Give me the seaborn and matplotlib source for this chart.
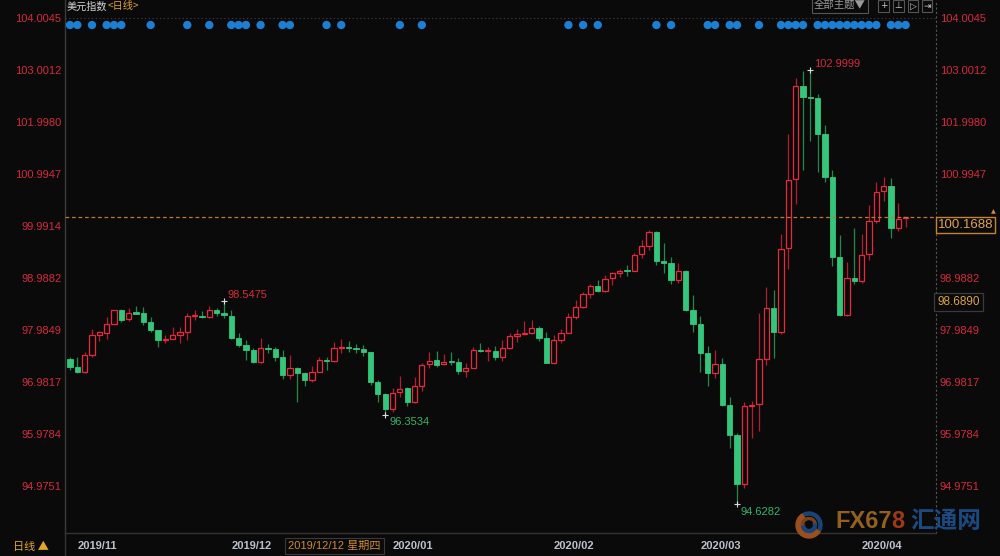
import numpy as np
import pandas as pd
import matplotlib
matplotlib.use("Agg")
import matplotlib.pyplot as plt
import seaborn as sns
from matplotlib.patches import Wedge
from matplotlib.lines import Line2D

# ---------------- data ----------------
open_ = [97.43, 97.28, 97.17, 97.50, 97.88, 97.93, 98.11, 98.37, 98.19, 98.33,
         98.31, 98.13, 97.99, 97.79, 97.82, 97.88, 97.95, 98.26, 98.26, 98.23,
         98.37, 98.31, 98.26, 97.84, 97.70, 97.60, 97.37, 97.64, 97.62, 97.46,
         97.12, 97.26, 97.16, 97.02, 97.18, 97.41, 97.39, 97.64, 97.66, 97.64,
         97.62, 97.57, 96.98, 96.75, 96.46, 96.78, 96.86, 96.59, 96.91, 97.32,
         97.41, 97.32, 97.39, 97.37, 97.19, 97.26, 97.60, 97.58, 97.58, 97.47,
         97.64, 97.87, 97.91, 97.93, 98.02, 97.84, 97.35, 97.79, 97.93, 98.24,
         98.42, 98.68, 98.83, 98.74, 98.98, 99.08, 99.14, 99.13, 99.45, 99.61,
         99.87, 99.32, 99.27, 98.95, 99.13, 98.38, 98.10, 97.55, 97.16, 97.33,
         96.54, 95.96, 95.01, 96.52, 96.55, 97.43, 98.40, 97.95, 99.56, 100.89,
         102.69, 102.49, 102.47, 101.77, 100.93, 99.40, 98.28, 98.98, 98.94, 99.45,
         100.09, 100.67, 100.77, 99.95, 100.15]
high = [97.47, 97.46, 97.57, 98.00, 97.97, 98.23, 98.38, 98.39, 98.40, 98.45,
        98.42, 98.23, 97.99, 97.88, 98.04, 98.04, 98.31, 98.37, 98.36, 98.45,
        98.40, 98.5475, 98.37, 97.93, 97.79, 97.63, 97.84, 97.72, 97.66, 97.59,
        97.50, 97.27, 97.18, 97.29, 97.47, 97.47, 97.75, 97.81, 97.78, 97.71,
        97.70, 97.57, 97.02, 96.76, 96.86, 97.10, 96.88, 97.07, 97.35, 97.57,
        97.58, 97.52, 97.57, 97.44, 97.35, 97.65, 97.73, 97.66, 97.68, 97.79,
        97.92, 98.00, 98.16, 98.18, 98.06, 97.95, 97.89, 98.00, 98.31, 98.56,
        98.71, 98.87, 98.95, 99.05, 99.11, 99.16, 99.24, 99.47, 99.72, 99.92,
        99.90, 99.67, 99.40, 99.27, 99.14, 98.66, 98.26, 97.68, 97.60, 97.44,
        96.70, 95.99, 96.59, 96.62, 98.32, 98.82, 98.76, 99.84, 101.77, 102.85,
        102.98, 102.9999, 102.53, 101.94, 101.07, 99.82, 99.30, 99.95, 99.84, 100.40,
        100.85, 100.94, 100.91, 100.43, 100.17]
low = [97.21, 97.16, 97.16, 97.46, 97.78, 97.81, 98.10, 98.13, 98.15, 98.29,
       98.08, 97.94, 97.66, 97.74, 97.81, 97.73, 97.79, 98.17, 98.21, 98.22,
       98.26, 98.21, 97.81, 97.66, 97.41, 97.35, 97.35, 97.55, 97.39, 97.03,
       97.03, 96.59, 96.90, 96.98, 97.17, 97.21, 97.37, 97.54, 97.57, 97.54,
       97.49, 96.92, 96.59, 96.3534, 96.41, 96.70, 96.52, 96.58, 96.80, 97.25,
       97.28, 97.31, 97.31, 97.14, 97.07, 97.25, 97.56, 97.39, 97.41, 97.39,
       97.63, 97.75, 97.88, 97.90, 97.78, 97.35, 97.34, 97.73, 97.92, 98.19,
       98.40, 98.60, 98.71, 98.71, 98.85, 99.00, 99.03, 99.12, 99.37, 99.52,
       99.23, 99.09, 98.87, 98.90, 98.35, 97.95, 97.18, 96.91, 97.05, 96.51,
       95.70, 94.6282, 94.94, 95.91, 96.04, 97.31, 97.44, 97.90, 99.16, 100.42,
       101.07, 101.63, 101.04, 100.85, 99.22, 98.26, 98.26, 98.88, 98.90, 99.34,
       100.04, 100.48, 99.76, 99.89, 99.98]
close = [97.28, 97.17, 97.50, 97.88, 97.94, 98.11, 98.37, 98.18, 98.31, 98.30,
         98.13, 97.99, 97.79, 97.81, 97.88, 97.94, 98.26, 98.28, 98.24, 98.37,
         98.31, 98.28, 97.84, 97.70, 97.60, 97.36, 97.64, 97.62, 97.46, 97.12,
         97.25, 97.16, 97.02, 97.17, 97.41, 97.39, 97.64, 97.66, 97.63, 97.62,
         97.57, 96.98, 96.75, 96.46, 96.76, 96.85, 96.59, 96.90, 97.31, 97.39,
         97.31, 97.36, 97.36, 97.19, 97.26, 97.59, 97.58, 97.60, 97.47, 97.64,
         97.86, 97.91, 97.92, 98.02, 97.84, 97.35, 97.79, 97.92, 98.23, 98.42,
         98.67, 98.83, 98.74, 98.96, 99.08, 99.13, 99.12, 99.43, 99.61, 99.87,
         99.32, 99.27, 98.95, 99.13, 98.38, 98.10, 97.55, 97.16, 97.33, 96.54,
         95.96, 95.01, 96.52, 96.54, 97.42, 98.40, 97.95, 99.55, 100.88, 102.69,
         102.49, 102.47, 101.77, 100.93, 99.40, 98.28, 98.98, 98.94, 99.43, 100.09,
         100.64, 100.77, 99.95, 100.12, 100.1688]

trade_dates = pd.bdate_range("2019-10-31", "2020-04-09").drop(pd.Timestamp("2020-01-01"))

y_ticks = [104.0045, 103.0012, 101.9980, 100.9947, 99.9914,
           98.9882, 97.9849, 96.9817, 95.9784, 94.9751]

# days carrying an event marker (top row of blue dots), as candle positions
event_days = [0, 1, 3, 5, 6, 7, 11, 16, 19, 22, 23, 24, 26, 29, 30, 35, 37,
              45, 48, 68, 70, 72, 80, 82, 87, 88, 90, 91, 94, 97, 98, 99, 100,
              102, 103, 104, 105, 106, 107, 108, 109, 110, 112, 113, 114]

last_price = 100.1688
cross_price = 98.6890
cross_date_label = "2019/12/12 星期四"
title_main = "美元指数"
title_period = "<日线>"

# ---------------- style ----------------
BG = "#0a0a0a"
RED = "#e8283c"
RED_WICK = "#b01e30"
GREEN = "#34c67a"
GREEN_WICK = "#1f8a4c"
RED_LBL = "#d42a3c"
GREEN_LBL = "#2fb56a"
BLUE = "#1b7fd3"
ORANGE = "#e0a030"

sns.set_theme(style="dark", rc={"axes.facecolor": BG, "figure.facecolor": BG,
                                "savefig.facecolor": BG, "axes.grid": False})
plt.rcParams["font.family"] = ["Liberation Sans", "Noto Sans CJK SC", "DejaVu Sans"]
CJK = ["Noto Sans CJK SC", "DejaVu Sans"]

W, H = 1000, 556
fig = plt.figure(figsize=(W / 100, H / 100), dpi=100)
AX_L, AX_R, AX_T, AX_B = 65, 936, 0, 533
ax = fig.add_axes([AX_L / W, 1 - AX_B / H, (AX_R - AX_L) / W, (AX_B - AX_T) / H])
ax.set_facecolor(BG)

o = np.array(open_); h = np.array(high); l = np.array(low); c = np.array(close)
n = len(o)
x = np.arange(n)
up = c >= o
dn = ~up
body_lo = np.minimum(o, c)
body_h = np.maximum(np.abs(c - o), 0.004)
BW = 0.72

ax.vlines(x[up], l[up], h[up], color=RED_WICK, lw=0.9, zorder=2)
ax.vlines(x[dn], l[dn], h[dn], color=GREEN_WICK, lw=0.9, zorder=2)
ax.bar(x[up], body_h[up], bottom=body_lo[up], width=BW, facecolor=BG,
       edgecolor=RED, linewidth=0.9, zorder=3)
ax.bar(x[dn], body_h[dn], bottom=body_lo[dn], width=BW, facecolor=GREEN,
       edgecolor=GREEN, linewidth=0.6, zorder=3)

# axis ranges (pixel layout of the original)
XLIM = ((AX_L - 70) / 7.33, (AX_R - 70) / 7.33)
ax.set_xlim(*XLIM)
ax.set_ylim(104.352 - 0.019294 * AX_B, 104.352 - 0.019294 * AX_T)
y0, y1 = ax.get_ylim()

# event markers row
dot_y = y1 - (y1 - y0) * 25 / (AX_B - AX_T)
ev = pd.DataFrame({"day": event_days, "y": [dot_y] * len(event_days)})
sns.scatterplot(data=ev, x="day", y="y", ax=ax, color=BLUE, s=36,
                edgecolor="none", legend=False, zorder=5)
ax.set_xlabel(""); ax.set_ylabel("")
ax.set_xlim(*XLIM)
ax.set_ylim(y0, y1)

# top dotted level and current price line
ax.axhline(y_ticks[0], color="#3a3a3a", lw=0.8, ls=(0, (1.2, 2.2)), zorder=1)
ax.axhline(last_price, color="#c07a30", lw=0.9, ls=(0, (3, 2.2)), zorder=4)

# y tick labels: left via axis, right drawn where no price box covers them
ax.set_yticks(y_ticks)
ax.set_yticklabels([f"{t:.4f}" for t in y_ticks])
ax.tick_params(axis="y", which="both", length=0, pad=2.6, labelcolor=RED_LBL,
               labelsize=8, labelleft=True, labelright=False)
box_span = 0.33
for t in y_ticks:
    covered = any(p - box_span < t < p + 0.05 for p in (last_price, cross_price))
    if covered:
        continue
    ax.annotate(f"{t:.4f}", xy=(1.0, t), xycoords=("axes fraction", "data"),
                xytext=(2.6, 0), textcoords="offset points", ha="left",
                va="center_baseline", fontsize=8, color=RED_LBL, annotation_clip=False)

# month ticks
months = trade_dates.to_period("M")
month_pos = [i for i in range(1, n) if months[i] != months[i - 1]]
ax.set_xticks(month_pos)
ax.set_xticklabels([trade_dates[i].strftime("%Y/%m") for i in month_pos])
ax.tick_params(axis="x", length=4, width=0.8, color="#555555", pad=1.5,
               labelcolor="#b9c2cc", labelsize=8)
for lb in ax.get_xticklabels():
    lb.set_ha("left")
    lb.set_fontweight("bold")

ax.spines["top"].set_visible(False)
ax.spines["left"].set_color("#3a3a3a"); ax.spines["left"].set_linewidth(1)
ax.spines["bottom"].set_color("#333333"); ax.spines["bottom"].set_linewidth(1)
ax.spines["right"].set_color("#555555"); ax.spines["right"].set_linewidth(0.8)
ax.spines["right"].set_linestyle((0, (1, 3)))

# extreme value annotations
i_hmax = int(np.argmax(h)); i_lmin = int(np.argmin(l))
i_h1 = int(np.argmax(h[:40])); i_l1 = int(np.argmin(l[:60]))
for i, v, dy, col in [(i_h1, h[i_h1], 4.5, RED_LBL), (i_hmax, h[i_hmax], 4.5, RED_LBL),
                      (i_l1, l[i_l1], -5.5, GREEN_LBL), (i_lmin, l[i_lmin], -6, GREEN_LBL)]:
    ax.plot([i], [v], marker="+", ms=5, mew=0.8, color="#dddddd", zorder=6)
    ax.annotate(f"{v:.4f}", xy=(i, v), xytext=(2.8, dy), textcoords="offset points",
                ha="left", va="center", fontsize=8, color=col, zorder=7)

# right side price boxes
ax.annotate(f"{last_price:.4f}", xy=(1.0, last_price), xycoords=("axes fraction", "data"),
            xytext=(1.2, -1.6), textcoords="offset points", ha="left", va="top",
            fontsize=9.5, color="#e0a352", annotation_clip=False,
            bbox=dict(boxstyle="square,pad=0.15", fc=BG, ec="#c8822e", lw=1))
ax.annotate(f"{cross_price:.4f}", xy=(1.0, cross_price), xycoords=("axes fraction", "data"),
            xytext=(1.0, -1.8), textcoords="offset points", ha="left", va="top",
            fontsize=8.5, color="#d9a441", annotation_clip=False,
            bbox=dict(boxstyle="square,pad=0.25", fc=BG, ec="#3a3a3a", lw=0.9))
ax.annotate("▲", xy=(1.0, last_price), xycoords=("axes fraction", "data"),
            xytext=(41, 1.5), textcoords="offset points", ha="center", va="bottom",
            fontsize=4.5, color="#e08a30", annotation_clip=False, family=["DejaVu Sans"])

# ---------------- frame texts ----------------
fig.text(67 / W, 1 - 6.5 / H, title_main, color="#d4d4d4", fontsize=7.3,
         ha="left", va="center", family=CJK)
fig.text(108 / W, 1 - 6.5 / H, title_period, color=ORANGE, fontsize=7.3,
         ha="left", va="center", family=CJK)

fig.text(13 / W, 1 - 547 / H, "日线 ▲", color="#e3a52c", fontsize=8,
         ha="left", va="center", family=CJK)
fig.add_artist(Line2D([AX_L / W, AX_L / W], [0, 1 - AX_B / H], color="#333333", lw=1))
fig.text(334.5 / W, 1 - 546 / H, cross_date_label, ha="center", va="center",
         fontsize=8, color="#cf8a2c", family=["Liberation Sans", "Noto Sans CJK SC"],
         bbox=dict(boxstyle="square,pad=0.3", fc=BG, ec="#3a3a3a", lw=0.8))

# top-right buttons
fig.text(840 / W, 1 - 6 / H, "全部主题▼", ha="center", va="center", fontsize=7.5,
         color="#9a9a9a", family=CJK,
         bbox=dict(boxstyle="square,pad=0.2", fc=BG, ec="#555555", lw=0.8))
for cx, sym in [(883.5, "+"), (898.5, "⊥"), (913, "▷"), (927, "⇥")]:
    fig.text(cx / W, 1 - 6 / H, sym, ha="center", va="center", fontsize=6.5,
             color="#c8c8c8", family=["DejaVu Sans"],
             bbox=dict(boxstyle="square,pad=0.15", fc=BG, ec="#555555", lw=0.8))

# watermark logo
lax = fig.add_axes([793 / W, 1 - 541 / H, 32 / W, 32 / H])
lax.set_xlim(-16, 16); lax.set_ylim(-16, 16); lax.set_aspect("equal"); lax.axis("off")
lax.add_patch(Wedge((0, 0), 13, 120, 330, width=4.5, color="#9a501c"))
lax.add_patch(Wedge((0, 0), 13, -25, 115, width=3, color="#1a4478"))
lax.add_patch(Wedge((0, 0), 7.5, 180, 20, width=3, color="#1a4478"))
lax.add_patch(Wedge((0, 0), 7.5, 20, 180, width=2, color="#7a421a"))

renderer = fig.canvas.get_renderer()
t1 = fig.text(835 / W, 1 - 521 / H, "FX67", color="#93601e", fontsize=17, fontweight="bold",
              ha="left", va="center", family=["Liberation Sans Narrow", "Liberation Sans"])
bb = t1.get_window_extent(renderer=renderer)
t2 = fig.text(bb.x1 / W, 1 - 521 / H, "8", color="#9c3a18", fontsize=17, fontweight="bold",
              ha="left", va="center", family=["Liberation Sans Narrow", "Liberation Sans"])
bb2 = t2.get_window_extent(renderer=renderer)
fig.text((bb2.x1 + 6) / W, 1 - 521 / H, "汇通网", color="#1b4a80", fontsize=17,
         fontweight="bold", ha="left", va="center", family=CJK)

fig.savefig("out.png", dpi=100, facecolor=BG)
